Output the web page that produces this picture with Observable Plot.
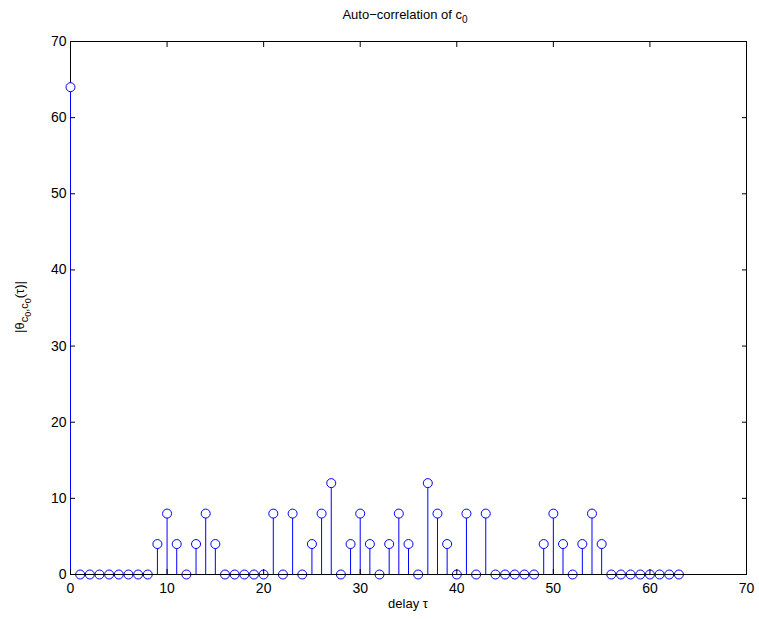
<!DOCTYPE html>
<html><head><meta charset="utf-8">
<script src="https://cdn.jsdelivr.net/npm/d3@7"></script>
<script src="https://cdn.jsdelivr.net/npm/@observablehq/plot@0.6"></script>
<style>body{margin:0;background:#fff} svg{display:block}</style>
</head><body><div id="chart"></div>
<script>
const delays = [0,1,2,3,4,5,6,7,8,9,10,11,12,13,14,15,16,17,18,19,20,21,22,23,24,25,26,27,28,29,30,31,32,33,34,35,36,37,38,39,40,41,42,43,44,45,46,47,48,49,50,51,52,53,54,55,56,57,58,59,60,61,62,63];
const values = [64,0,0,0,0,0,0,0,0,4,8,4,0,4,8,4,0,0,0,0,0,8,0,8,0,4,8,12,0,4,8,4,0,4,8,4,0,12,8,4,0,8,0,8,0,0,0,0,0,4,8,4,0,4,8,4,0,0,0,0,0,0,0,0];
const xTicks = [0,10,20,30,40,50,60,70];
const yTicks = [0,10,20,30,40,50,60,70];
const titleText = "Auto\u2212correlation of c";
const xLabelText = "delay \u03c4";

const data = delays.map((d, i) => ({tau: d, v: values[i]}));
const font = '"Liberation Sans", Arial, Helvetica, sans-serif';

const chart = Plot.plot({
  width: 759, height: 619,
  marginLeft: 70, marginRight: 13, marginTop: 41, marginBottom: 45,
  style: {fontFamily: font, fontSize: "14px", color: "#000", background: "#fff", overflow: "visible"},
  x: {domain: [0, 70], label: null},
  y: {domain: [0, 70], label: null},
  marks: [
    Plot.frame({stroke: "#000"}),
    Plot.ruleX(data, {x: "tau", y1: 0, y2: "v", stroke: "#0000ff", strokeWidth: 1}),
    Plot.dot(data, {x: "tau", y: "v", r: 4.5, stroke: "#0000ff", fill: "#fff", strokeWidth: 1}),
    Plot.ruleY([0], {stroke: "#000", strokeWidth: 1}),
    Plot.axisX({ticks: xTicks, anchor: "bottom", tickSize: -5, tickPadding: 14, label: null}),
    Plot.axisX({ticks: xTicks, anchor: "top", tickSize: -5, tickFormat: () => "", label: null}),
    Plot.axisY({ticks: yTicks, anchor: "left", tickSize: -5, tickPadding: 9, label: null}),
    Plot.axisY({ticks: yTicks, anchor: "right", tickSize: -5, tickFormat: () => "", label: null})
  ]
});
document.getElementById("chart").appendChild(chart);

const svg = d3.select(chart);
const cx = 405;
// title
const t = svg.append("text").attr("x", cx).attr("y", 19).attr("text-anchor", "middle")
  .attr("font-family", font).attr("font-size", 13).attr("fill", "#000");
t.append("tspan").text(titleText);
t.append("tspan").attr("font-size", 10).attr("dy", 4).text("0");
// x label
svg.append("text").attr("x", cx + 3).attr("y", 608).attr("text-anchor", "middle")
  .attr("font-family", font).attr("font-size", 13).attr("fill", "#000").text(xLabelText);
// y label
const yl = svg.append("text").attr("transform", "translate(24,307) rotate(-90)").attr("text-anchor", "middle")
  .attr("font-family", font).attr("font-size", 13).attr("fill", "#000");
yl.append("tspan").text("|\u03b8");
yl.append("tspan").attr("font-size", 11).attr("dy", 4).text("c");
yl.append("tspan").attr("font-size", 9).attr("dy", 3).text("0");
yl.append("tspan").attr("font-size", 11).attr("dy", -3).text(",c");
yl.append("tspan").attr("font-size", 9).attr("dy", 3).text("0");
yl.append("tspan").attr("font-size", 13).attr("dy", -7).text("(\u03c4)|");
</script>
</body></html>
